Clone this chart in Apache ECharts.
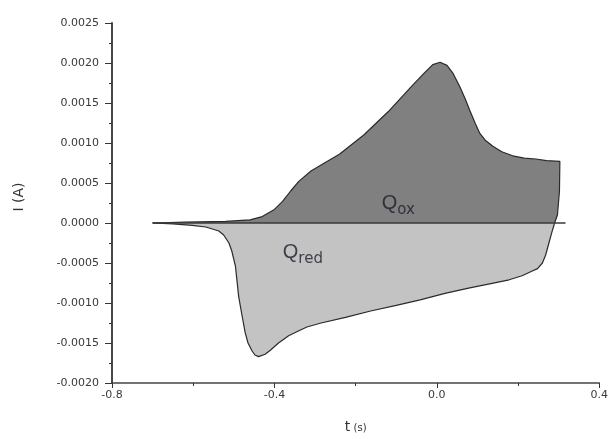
<!DOCTYPE html>
<html>
<head>
<meta charset="utf-8">
<script src="https://cdn.jsdelivr.net/npm/echarts@6/dist/echarts.min.js"></script>
<style>
  html, body { margin: 0; padding: 0; background: #fff; }
  #chart { width: 611px; height: 439px; }
</style>
</head>
<body>
<div id="chart"></div>
<script>
// Forward (oxidation) scan: time t (s) and current I (A)
const oxT = [-0.70, -0.62, -0.52, -0.46, -0.43, -0.40, -0.38, -0.36, -0.34, -0.31, -0.28, -0.24,
  -0.18, -0.12, -0.06, -0.03, -0.01, 0.008, 0.025, 0.04, 0.057, 0.07, 0.081, 0.095, 0.106,
  0.12, 0.138, 0.16, 0.187, 0.215, 0.244, 0.27, 0.303, 0.302, 0.297, 0.290];
const oxI = [0, 0.00001, 0.00002, 0.00004, 0.00008, 0.00017, 0.00027, 0.0004, 0.00052, 0.00065,
  0.00074, 0.00086, 0.0011, 0.00139, 0.00172, 0.00188, 0.00198, 0.00201, 0.00197, 0.00187,
  0.0017, 0.00155, 0.00141, 0.00124, 0.00112, 0.00103, 0.00096, 0.00089, 0.00084, 0.00081,
  0.0008, 0.00078, 0.00077, 0.0004, 0.0001, 0];

// Return (reduction) scan
const redT = [0.290, 0.283, 0.276, 0.268, 0.26, 0.248, 0.235, 0.21, 0.178, 0.13, 0.081, 0.02,
  -0.041, -0.10, -0.163, -0.225, -0.285, -0.32, -0.341, -0.365, -0.39, -0.41, -0.423, -0.439,
  -0.448, -0.455, -0.465, -0.472, -0.48, -0.488, -0.496, -0.505, -0.512, -0.525, -0.537,
  -0.569, -0.602, -0.65, -0.70];
const redI = [0, -0.00012, -0.00025, -0.0004, -0.0005, -0.00057, -0.0006, -0.00066, -0.00071,
  -0.00076, -0.00081, -0.00088, -0.00096, -0.00103, -0.0011, -0.00118, -0.00125, -0.0013,
  -0.00135, -0.00141, -0.0015, -0.00159, -0.00164, -0.00167, -0.00165, -0.0016, -0.0015,
  -0.00137, -0.00115, -0.00092, -0.00054, -0.00035, -0.00025, -0.00015, -0.0001, -0.00005,
  -0.00003, -0.00001, 0];

// Zero-current reference line
const zeroT = [-0.70, 0.317];
const zeroI = [0, 0];

// Charge annotations: [t, I, subscript]
const chargeLabels = [[-0.095, 0.00026, 'ox'], [-0.33, -0.00036, 'red']];

const zip = (a, b) => a.map((v, i) => [v, b[i]]);

const chart = echarts.init(document.getElementById('chart'), null, { renderer: 'canvas' });

const axisFont = { fontFamily: 'DejaVu Sans', fontSize: 11, color: '#3a3a3a' };
const tickStyle = { color: '#333', width: 1 };

chart.setOption({
  animation: false,
  backgroundColor: '#ffffff',
  grid: { left: 112, right: 8, top: 23, bottom: 56 },
  xAxis: {
    type: 'value', min: -0.8, max: 0.4, interval: 0.4,
    name: '{t|t} {u|(s)}', nameLocation: 'middle', nameGap: 37,
    nameTextStyle: {
      rich: {
        t: { fontFamily: 'DejaVu Sans', fontSize: 14, color: '#333' },
        u: { fontFamily: 'DejaVu Sans', fontSize: 10, color: '#333', padding: [3, 0, 0, 0] }
      }
    },
    axisLine: { onZero: false, lineStyle: { color: '#444', width: 1.6 } },
    axisTick: { inside: false, length: 5, lineStyle: tickStyle },
    minorTick: { show: true, splitNumber: 2, length: 3, lineStyle: tickStyle },
    splitLine: { show: false },
    axisLabel: Object.assign({ margin: 7, formatter: v => v.toFixed(1) }, axisFont)
  },
  yAxis: {
    type: 'value', min: -0.002, max: 0.0025, interval: 0.0005,
    name: 'I (A)', nameLocation: 'middle', nameGap: 86, nameRotate: 90,
    nameTextStyle: { fontFamily: 'DejaVu Sans', fontSize: 14, color: '#333', padding: [0, 0, 0, 12] },
    axisLine: { onZero: false, lineStyle: { color: '#333', width: 1.8 } },
    axisTick: { inside: false, length: 7, lineStyle: tickStyle },
    minorTick: { show: true, splitNumber: 2, length: 3, lineStyle: tickStyle },
    splitLine: { show: false },
    axisLabel: Object.assign({ margin: 13, formatter: v => v.toFixed(4) }, axisFont)
  },
  series: [
    {
      name: 'ox', type: 'line', data: zip(oxT, oxI), showSymbol: false, smooth: false,
      lineStyle: { color: '#2a2a2a', width: 1.2 },
      areaStyle: { color: '#808080', opacity: 1 },
      z: 2
    },
    {
      name: 'red', type: 'line', data: zip(redT, redI), showSymbol: false, smooth: false,
      lineStyle: { color: '#2a2a2a', width: 1.2 },
      areaStyle: { color: '#c3c3c3', opacity: 1 },
      z: 2
    },
    {
      name: 'zero', type: 'line', data: zip(zeroT, zeroI), showSymbol: false,
      lineStyle: { color: '#3a3a3a', width: 1.6 }, z: 3
    },
    {
      name: 'charges', type: 'scatter', symbolSize: 0, z: 4,
      data: chargeLabels.map(d => ({ value: [d[0], d[1]], sub: d[2] })),
      label: {
        show: true, position: 'inside',
        formatter: p => '{q|Q}{s|' + p.data.sub + '}',
        rich: {
          q: { fontFamily: 'Liberation Sans', fontSize: 20, color: '#1c1c2a', verticalAlign: 'bottom', lineHeight: 22 },
          s: { fontFamily: 'DejaVu Sans', fontSize: 15, color: '#1c1c2a', verticalAlign: 'bottom', lineHeight: 16, padding: [0, 0, -4, 0] }
        }
      }
    }
  ]
});
</script>
</body>
</html>
